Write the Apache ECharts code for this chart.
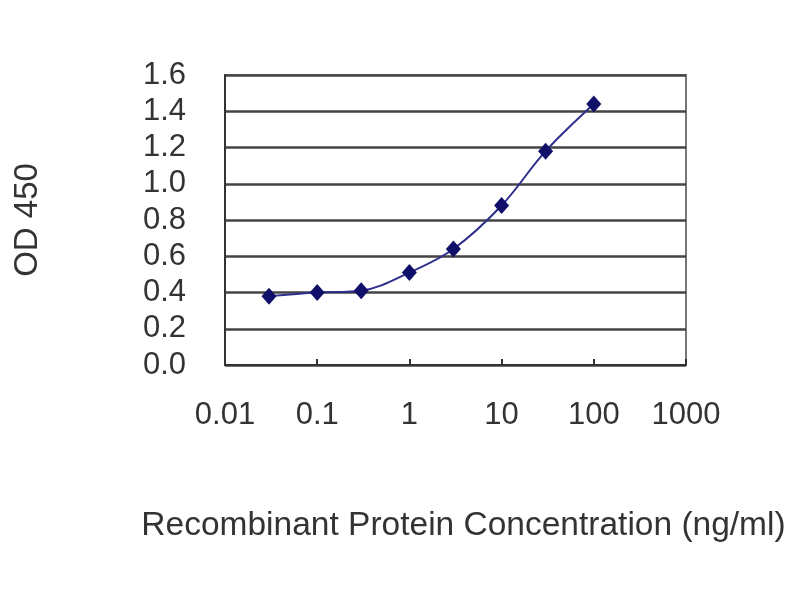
<!DOCTYPE html>
<html>
<head>
<meta charset="utf-8">
<script src="https://cdn.jsdelivr.net/npm/echarts@6/dist/echarts.min.js"></script>
<style>
html,body{margin:0;padding:0;background:#fff;}
#chart{width:800px;height:600px;}
</style>
</head>
<body>
<div id="chart"></div>
<script>
const concentrations = [0.03, 0.1, 0.3, 1, 3, 10, 30, 100];
const odValues = [0.38, 0.40, 0.41, 0.51, 0.64, 0.88, 1.18, 1.44];
const xTickLabels = ['0.01', '0.1', '1', '10', '100', '1000'];
const yTickLabels = ['0.0', '0.2', '0.4', '0.6', '0.8', '1.0', '1.2', '1.4', '1.6'];
const xTitle = 'Recombinant Protein Concentration (ng/ml)';
const yTitle = 'OD 450';

const font = '"Liberation Sans", Arial, sans-serif';
const chart = echarts.init(document.getElementById('chart'));
chart.setOption({
  backgroundColor: '#ffffff',
  animation: false,
  grid: {
    left: 225, right: 114, top: 75, bottom: 235,
    show: true, borderColor: '#777', borderWidth: 2, backgroundColor: 'transparent'
  },
  xAxis: {
    type: 'log', logBase: 10, min: 0.01, max: 1000,
    name: xTitle, nameLocation: 'middle', nameGap: 144,
    nameTextStyle: {fontSize: 33.5, color: '#333', fontFamily: font, padding: [0, 0, 0, 16]},
    axisLine: {show: true, lineStyle: {color: '#333', width: 2}},
    axisTick: {show: true, inside: true, length: 6, lineStyle: {color: '#333', width: 2}},
    minorTick: {show: false},
    splitLine: {show: false},
    axisLabel: {
      fontSize: 31, color: '#333', fontFamily: font, margin: 35,
      formatter: function (v) {
        const idx = Math.round(Math.log10(v)) + 2;
        return xTickLabels[idx] !== undefined ? xTickLabels[idx] : '';
      }
    }
  },
  yAxis: {
    type: 'value', min: 0, max: 1.6, interval: 0.2,
    name: yTitle, nameLocation: 'middle', nameGap: 181, nameRotate: 90,
    nameTextStyle: {fontSize: 33, color: '#333', fontFamily: font},
    axisLine: {show: true, lineStyle: {color: '#333', width: 2}},
    axisTick: {show: false},
    splitLine: {show: true, lineStyle: {color: '#444', width: 2.5}},
    axisLabel: {
      fontSize: 31, color: '#333', fontFamily: font, margin: 39,
      formatter: function (v) {
        const idx = Math.round(v / 0.2);
        return yTickLabels[idx] !== undefined ? yTickLabels[idx] : '';
      }
    }
  },
  series: [{
    type: 'line',
    data: concentrations.map((c, i) => [c, odValues[i]]),
    smooth: 0.35,
    symbol: 'diamond',
    symbolSize: [15, 17],
    itemStyle: {color: '#10106a'},
    lineStyle: {color: '#2e2e8c', width: 2}
  }]
});
</script>
</body>
</html>
